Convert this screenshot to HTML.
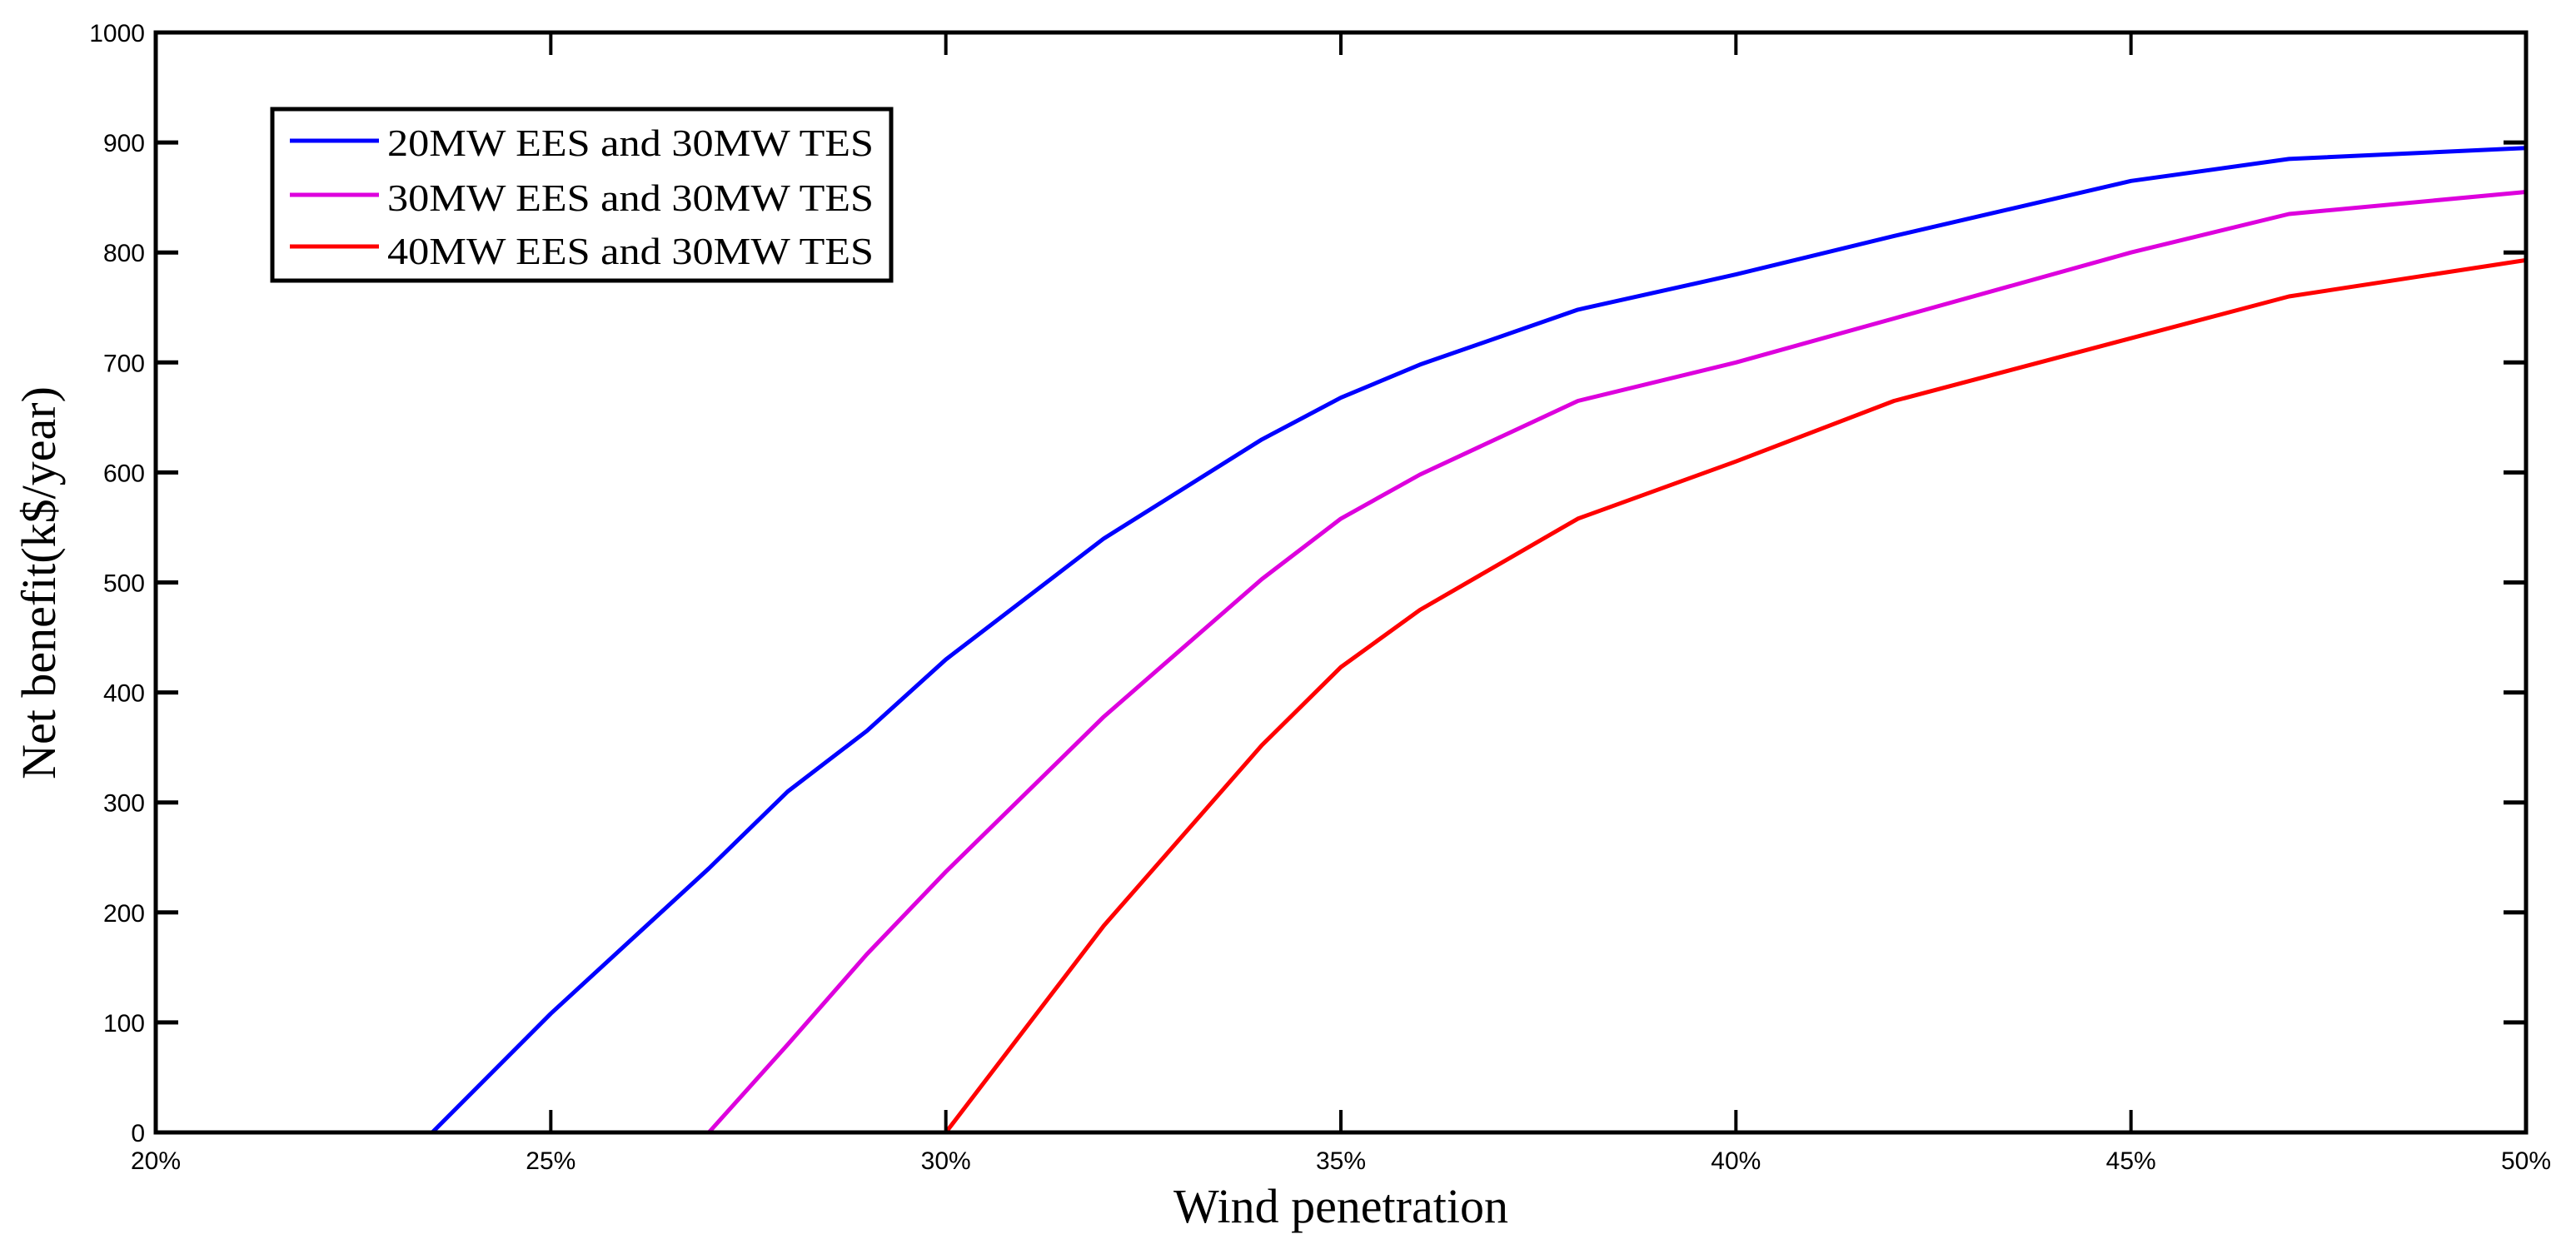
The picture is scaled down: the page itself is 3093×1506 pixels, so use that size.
<!DOCTYPE html>
<html><head><meta charset="utf-8"><style>
html,body{margin:0;padding:0;background:#fff;}
svg{display:block;}
</style></head><body>
<svg id="chart" width="3093" height="1506" viewBox="0 0 3093 1506" xmlns="http://www.w3.org/2000/svg">
<rect x="0" y="0" width="3093" height="1506" fill="#fff"/>
<g id="plot"></g>
<text x="1610" y="1468" font-family="Liberation Serif, serif" font-size="58" text-anchor="middle">Wind penetration</text>
<text transform="translate(66,700) rotate(-90)" font-family="Liberation Serif, serif" font-size="58" text-anchor="middle">Net benefit(k$/year)</text>
<g>
<rect x="327" y="131" width="743" height="206" fill="#fff" stroke="#000" stroke-width="5"/>
<line x1="348" y1="169" x2="455" y2="169" stroke="#0000ff" stroke-width="5"/>
<text x="465" y="187" font-family="Liberation Serif, serif" font-size="46" textLength="584" lengthAdjust="spacingAndGlyphs">20MW EES and 30MW TES</text>
<line x1="348" y1="234" x2="455" y2="234" stroke="#dd00dd" stroke-width="5"/>
<text x="465" y="253" font-family="Liberation Serif, serif" font-size="46" textLength="584" lengthAdjust="spacingAndGlyphs">30MW EES and 30MW TES</text>
<line x1="348" y1="296" x2="455" y2="296" stroke="#ff0000" stroke-width="5"/>
<text x="465" y="317" font-family="Liberation Serif, serif" font-size="46" textLength="584" lengthAdjust="spacingAndGlyphs">40MW EES and 30MW TES</text>
</g>
</svg>
<script>
const xTicks = [20, 25, 30, 35, 40, 45, 50];
const yTicks = [0, 100, 200, 300, 400, 500, 600, 700, 800, 900, 1000];
const blueX = [23.5, 25, 27, 28, 29, 30, 32, 34, 35, 36, 38, 40, 42, 45, 47, 50];
const blueY = [0, 108, 240, 310, 365, 430, 540, 630, 668, 698, 748, 780, 815, 865, 885, 895];
const magentaX = [27, 28, 29, 30, 32, 34, 35, 36, 38, 40, 42, 45, 47, 50];
const magentaY = [0, 80, 162, 237, 378, 503, 558, 598, 665, 700, 740, 800, 835, 855];
const redX = [30, 32, 34, 35, 36, 38, 40, 42, 45, 47, 50];
const redY = [0, 188, 352, 423, 475, 558, 610, 665, 722, 760, 793];

const L = 187, R = 3033, T = 39, B = 1360;
function sx(v){ return L + (v - 20) / 30 * (R - L); }
function sy(v){ return B - v / 1000 * (B - T); }
const NS = 'http://www.w3.org/2000/svg';
const plot = document.getElementById('plot');
function mk(tag, attrs){ const e = document.createElementNS(NS, tag); for (const k in attrs) e.setAttribute(k, attrs[k]); plot.appendChild(e); return e; }

function series(xs, ys, color, name){
  const pts = xs.map((x,i) => sx(x).toFixed(1) + ',' + sy(ys[i]).toFixed(1)).join(' ');
  const p = mk('polyline', {points: pts, fill: 'none', stroke: color, 'stroke-width': 5, 'stroke-linejoin': 'round'});
  
  
}
series(redX, redY, '#ff0000', 'series-40mw-ees');
series(magentaX, magentaY, '#dd00dd', 'series-30mw-ees');
series(blueX, blueY, '#0000ff', 'series-20mw-ees');

const frame = mk('rect', {x: L, y: T, width: R - L, height: B - T, fill: 'none', stroke: '#000', 'stroke-width': 5});



xTicks.forEach(v => {
  const x = sx(v);
  const t1 = mk('line', {x1: x, y1: B, x2: x, y2: B - 27, stroke: '#000', 'stroke-width': 4});
  
  
  const t2 = mk('line', {x1: x, y1: T, x2: x, y2: T + 27, stroke: '#000', 'stroke-width': 4});
  
  
  const lb = mk('text', {x: x, y: B + 44, 'font-family': 'Liberation Sans, sans-serif', 'font-size': 30, 'text-anchor': 'middle'});
  lb.textContent = v + '%';
  
  
});
yTicks.forEach(v => {
  const y = sy(v);
  const t1 = mk('line', {x1: L, y1: y, x2: L + 27, y2: y, stroke: '#000', 'stroke-width': 5});
  
  
  const t2 = mk('line', {x1: R, y1: y, x2: R - 27, y2: y, stroke: '#000', 'stroke-width': 5});
  
  
  const lb = mk('text', {x: 174, y: y + 11, 'font-family': 'Liberation Sans, sans-serif', 'font-size': 30, 'text-anchor': 'end'});
  lb.textContent = v;
  
  
});
</script>
</body></html>
